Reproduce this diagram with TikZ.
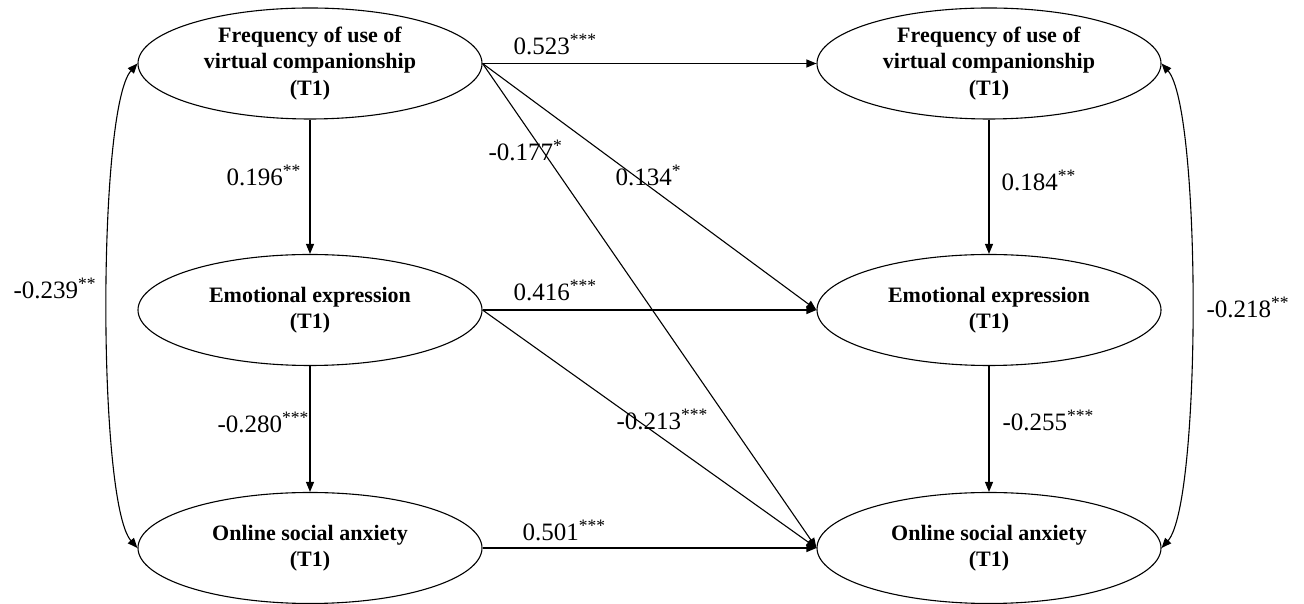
\documentclass[tikz,border=0pt]{standalone}
\usepackage{fontspec}
\setmainfont{Liberation Serif}
\usetikzlibrary{arrows.meta,shapes.geometric}
\begin{document}
\begin{tikzpicture}[x=1pt,y=1pt,line width=1.1pt,
		latent/.style={draw,ellipse,minimum width=344pt,minimum height=111pt,inner sep=0pt,
			align=center,font=\fontsize{22}{26.5}\selectfont\bfseries},
		coef/.style={anchor=base west,inner sep=0pt,font=\fontsize{25}{30}\selectfont},
		path/.style={-{Triangle[length=10pt,width=8pt]}},
		cov/.style={{Triangle[length=10pt,width=8pt]}-{Triangle[length=10pt,width=8pt]}}]
			\useasboundingbox (0, 0) rectangle (1304, 604);
			% time 1
			\node[latent] (freqA) at (310, 540.5) {Frequency of use of\\virtual companionship\\(T1)};
			\node[latent] (emoA) at (310, 294) {Emotional expression\\(T1)};
			\node[latent] (anxA) at (310, 56) {Online social anxiety\\(T1)};
			% time 2
			\node[latent] (freqB) at (989, 540.5) {Frequency of use of\\virtual companionship\\(T1)};
			\node[latent] (emoB) at (989, 294) {Emotional expression\\(T1)};
			\node[latent] (anxB) at (989, 56) {Online social anxiety\\(T1)};
			% paths
			\draw[path] (freqA) -- (emoA);
			\draw[path] (emoA) -- (anxA);
			\draw[path] (freqB) -- (emoB);
			\draw[path] (emoB) -- (anxB);
			\draw[path] (freqA.east) -- (freqB.west);
			\draw[path] (freqA.east) -- (emoB.west);
			\draw[path] (freqA.east) -- (anxB.west);
			\draw[path] (emoA.east) -- (emoB.west);
			\draw[path] (emoA.east) -- (anxB.west);
			\draw[path] (anxA.east) -- (anxB.west);
			% covariances
			\draw[cov] (freqA.west) .. controls +(-40, -45) and +(-40, 45) .. (anxA.west);
			\draw[cov] (freqB.east) .. controls +(40, -45) and +(40, 45) .. (anxB.east);
			% coefficients
			\node[coef] (c1) at (513, 549) {0.523\textsuperscript{***}};
			\node[coef] (c2) at (226, 418) {0.196\textsuperscript{**}};
			\node[coef] (c3) at (488, 443) {-0.177\textsuperscript{*}};
			\node[coef] (c4) at (615, 418) {0.134\textsuperscript{*}};
			\node[coef] (c5) at (1001, 413) {0.184\textsuperscript{**}};
			\node[coef] (c6) at (513, 303) {0.416\textsuperscript{***}};
			\node[coef] (c7) at (13, 305) {-0.239\textsuperscript{**}};
			\node[coef] (c8) at (1206, 286) {-0.218\textsuperscript{**}};
			\node[coef] (c9) at (217, 171) {-0.280\textsuperscript{***}};
			\node[coef] (c10) at (616, 174) {-0.213\textsuperscript{***}};
			\node[coef] (c11) at (1002, 173) {-0.255\textsuperscript{***}};
			\node[coef] (c12) at (522, 63) {0.501\textsuperscript{***}};
		\end{tikzpicture}
\end{document}
